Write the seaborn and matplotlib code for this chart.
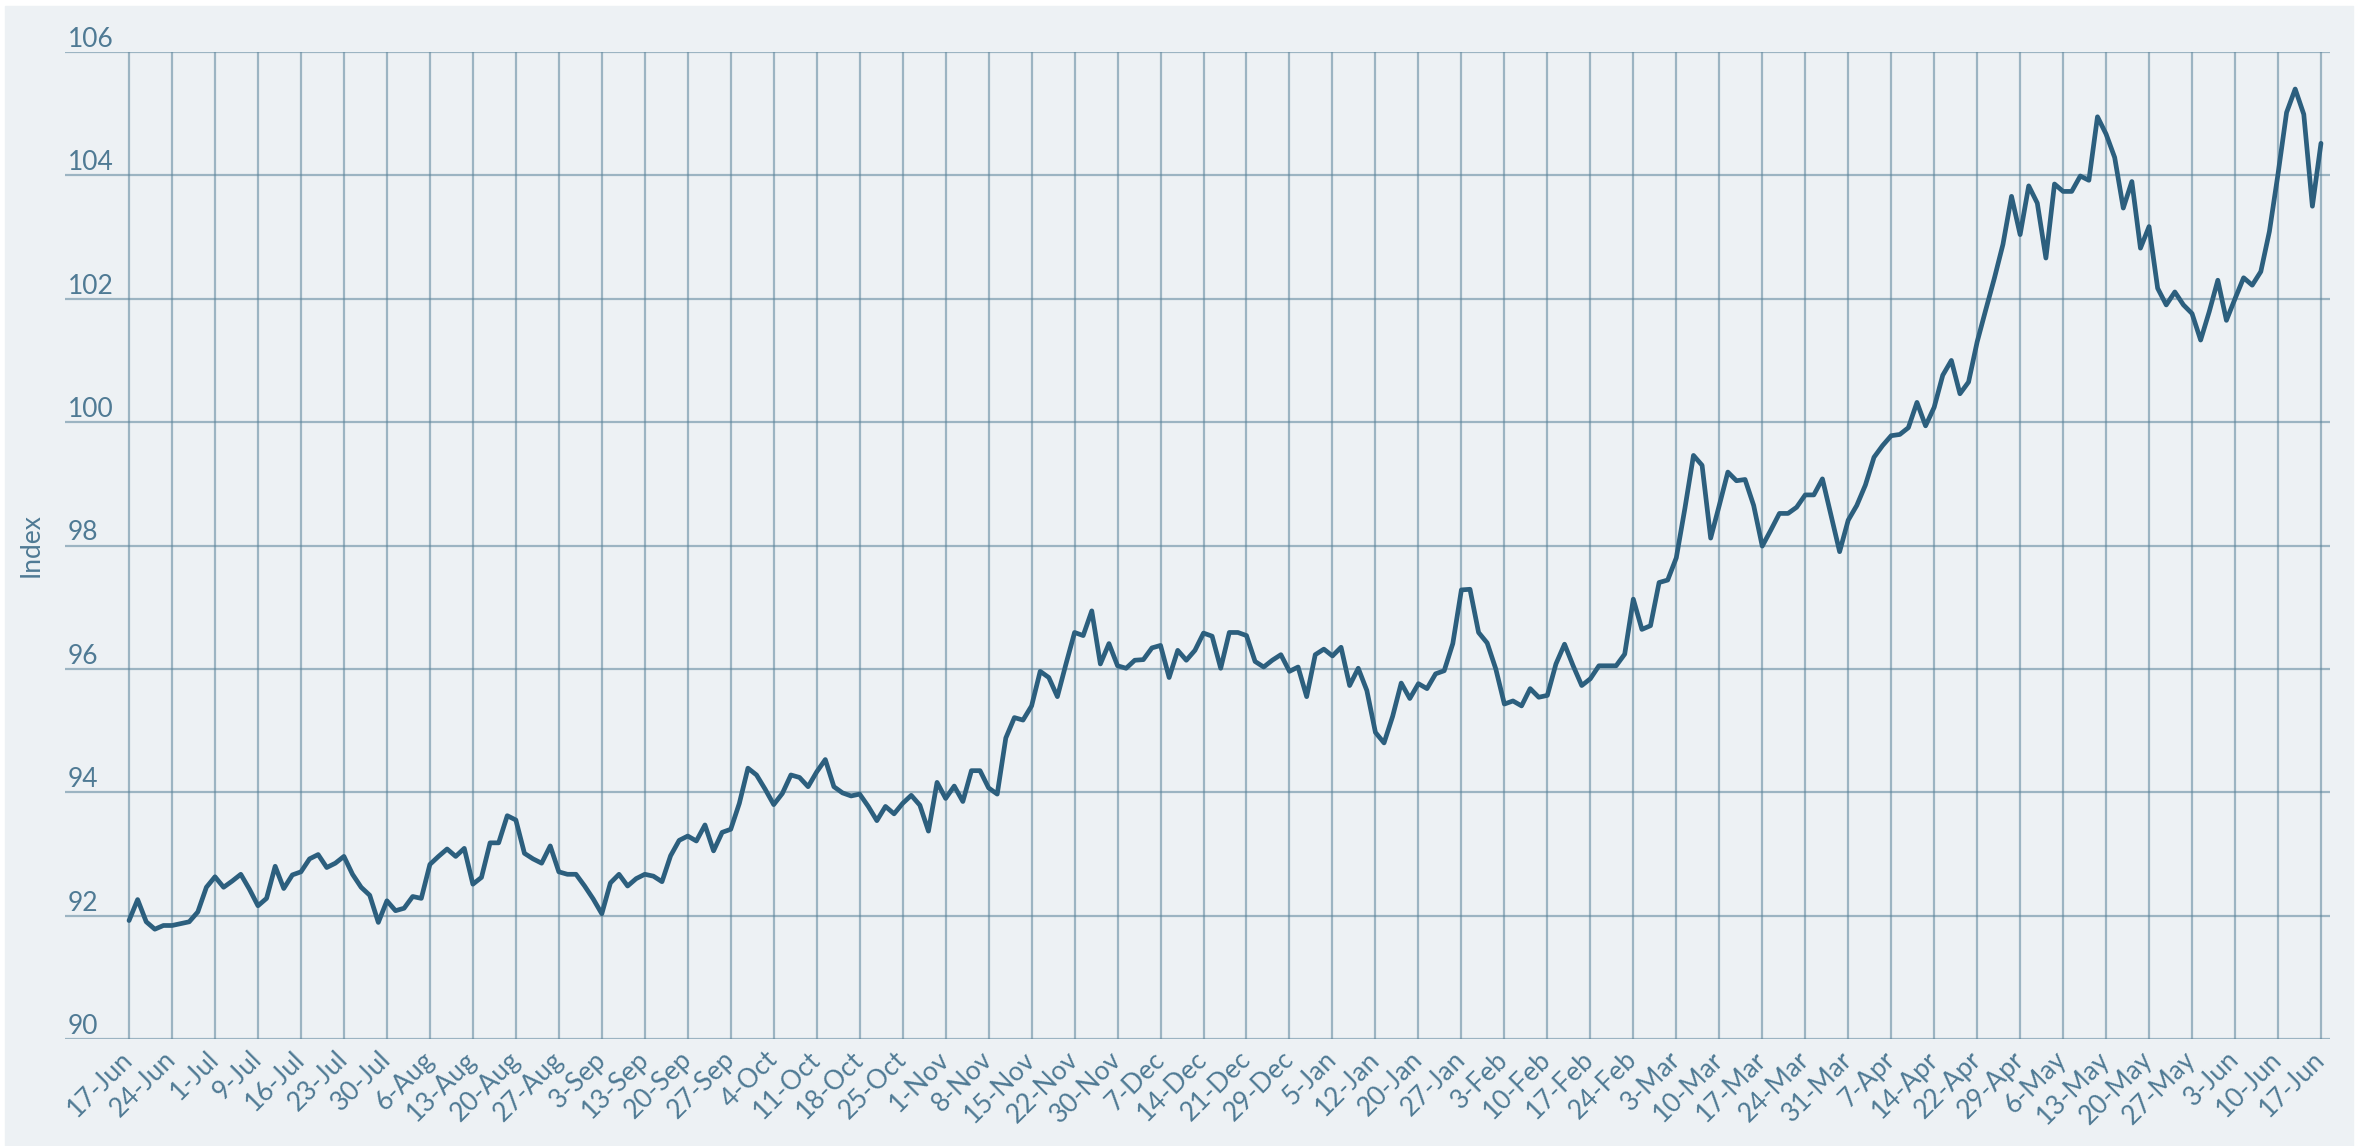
import numpy as np
import pandas as pd
import matplotlib
matplotlib.use("Agg")
import matplotlib.pyplot as plt
import seaborn as sns

# weekly tick labels (one every 5 trading days)
week_labels = ["17-Jun", "24-Jun", "1-Jul", "9-Jul", "16-Jul", "23-Jul", "30-Jul",
               "6-Aug", "13-Aug", "20-Aug", "27-Aug", "3-Sep", "13-Sep", "20-Sep",
               "27-Sep", "4-Oct", "11-Oct", "18-Oct", "25-Oct", "1-Nov", "8-Nov",
               "15-Nov", "22-Nov", "30-Nov", "7-Dec", "14-Dec", "21-Dec", "29-Dec",
               "5-Jan", "12-Jan", "20-Jan", "27-Jan", "3-Feb", "10-Feb", "17-Feb",
               "24-Feb", "3-Mar", "10-Mar", "17-Mar", "24-Mar", "31-Mar", "7-Apr",
               "14-Apr", "22-Apr", "29-Apr", "6-May", "13-May", "20-May", "27-May",
               "3-Jun", "10-Jun", "17-Jun"]

# daily index values
index_values = [
    91.92, 92.26, 91.90, 91.78, 91.84,
    91.84, 91.87, 91.90, 92.06, 92.46,
    92.63, 92.46, 92.56, 92.67, 92.43,
    92.16, 92.28, 92.80, 92.44, 92.66,
    92.71, 92.92, 92.99, 92.78, 92.85,
    92.96, 92.67, 92.46, 92.33, 91.89,
    92.24, 92.08, 92.12, 92.31, 92.28,
    92.83, 92.96, 93.08, 92.96, 93.09,
    92.51, 92.62, 93.18, 93.18, 93.62,
    93.55, 93.01, 92.92, 92.85, 93.13,
    92.71, 92.67, 92.67, 92.48, 92.27,
    92.03, 92.53, 92.67, 92.48, 92.60,
    92.67, 92.64, 92.55, 92.97, 93.22,
    93.29, 93.21, 93.47, 93.05, 93.35,
    93.40, 93.82, 94.39, 94.28, 94.05,
    93.80, 93.98, 94.28, 94.24, 94.09,
    94.33, 94.53, 94.09, 93.99, 93.94,
    93.97, 93.77, 93.54, 93.77, 93.65,
    93.82, 93.95, 93.79, 93.37, 94.16,
    93.90, 94.10, 93.85, 94.35, 94.35,
    94.07, 93.97, 94.88, 95.21, 95.17,
    95.40, 95.96, 95.86, 95.55, 96.08,
    96.59, 96.54, 96.94, 96.08, 96.41,
    96.05, 96.01, 96.14, 96.15, 96.34,
    96.38, 95.86, 96.30, 96.14, 96.30,
    96.58, 96.53, 96.01, 96.59, 96.59,
    96.54, 96.12, 96.03, 96.14, 96.23,
    95.96, 96.03, 95.55, 96.23, 96.32,
    96.21, 96.35, 95.73, 96.01, 95.65,
    94.97, 94.80, 95.23, 95.77, 95.52,
    95.76, 95.68, 95.92, 95.97, 96.41,
    97.28, 97.29, 96.59, 96.42, 96.00,
    95.43, 95.48, 95.40, 95.68, 95.54,
    95.57, 96.08, 96.40, 96.05, 95.73,
    95.84, 96.05, 96.05, 96.05, 96.24,
    97.13, 96.64, 96.70, 97.40, 97.44,
    97.80, 98.60, 99.46, 99.30, 98.12,
    98.65, 99.19, 99.05, 99.07, 98.65,
    97.99, 98.25, 98.52, 98.52, 98.62,
    98.82, 98.82, 99.08, 98.49, 97.90,
    98.41, 98.65, 98.98, 99.43, 99.62,
    99.78, 99.80, 99.91, 100.32, 99.94,
    100.24, 100.76, 101.00, 100.46, 100.65,
    101.30, 101.82, 102.33, 102.88, 103.66,
    103.04, 103.83, 103.55, 102.66, 103.86,
    103.74, 103.74, 103.99, 103.92, 104.95,
    104.67, 104.29, 103.47, 103.90, 102.82,
    103.17, 102.17, 101.90, 102.11, 101.90,
    101.76, 101.33, 101.79, 102.30, 101.65,
    102.00, 102.34, 102.22, 102.44, 103.09,
    104.02, 105.02, 105.40, 104.99, 103.50, 104.52,
]
y_ticks = [90, 92, 94, 96, 98, 100, 102, 104, 106]

bg = "#edf1f4"
line_col = "#2c5f7e"
text_col = "#4f7a94"
grid_col = "#5a8299"

sns.set_theme(style="white")
plt.rcParams["font.family"] = ["Lato", "DejaVu Sans"]

df = pd.DataFrame({"day": np.arange(len(index_values)), "index": index_values})

fig = plt.figure(figsize=(23.64, 11.46), dpi=100, facecolor="white")
fig.add_artist(plt.Rectangle((5 / 2364, 0), 2348 / 2364, 1140 / 1146,
                             transform=fig.transFigure, color=bg, zorder=-1))
ax = fig.add_axes([65 / 2364, 107 / 1146, 2265 / 2364, 987 / 1146])
ax.set_facecolor(bg)

sns.lineplot(data=df, x="day", y="index", ax=ax, color=line_col, linewidth=3.4, zorder=3)

ax.set_xlim(-7.45, 256.05)
ax.set_ylim(90, 106)
ax.set_xticks(np.arange(0, len(index_values), 5))
ax.set_xticklabels(week_labels)
ax.set_yticks(y_ticks)
ax.set_yticklabels([str(v) for v in y_ticks])

for s in ax.spines.values():
    s.set_visible(False)
ax.grid(True, color=grid_col, alpha=0.55, linewidth=1.6)

ax.tick_params(axis="x", length=0, pad=12, labelsize=19, labelcolor=text_col)
ax.tick_params(axis="y", length=0, pad=-2, labelsize=19, labelcolor=text_col)
for lbl in ax.get_xticklabels():
    lbl.set_rotation(45)
    lbl.set_rotation_mode("anchor")
    lbl.set_ha("right")
    lbl.set_va("center")
for lbl in ax.get_yticklabels():
    lbl.set_ha("left")
    lbl.set_va("bottom")

ax.set_xlabel("")
ax.set_ylabel("Index", fontsize=19, color=text_col, va="center")
ax.yaxis.set_label_coords(-0.015, 0.5)

fig.savefig("out.png", dpi=100, facecolor="white")
